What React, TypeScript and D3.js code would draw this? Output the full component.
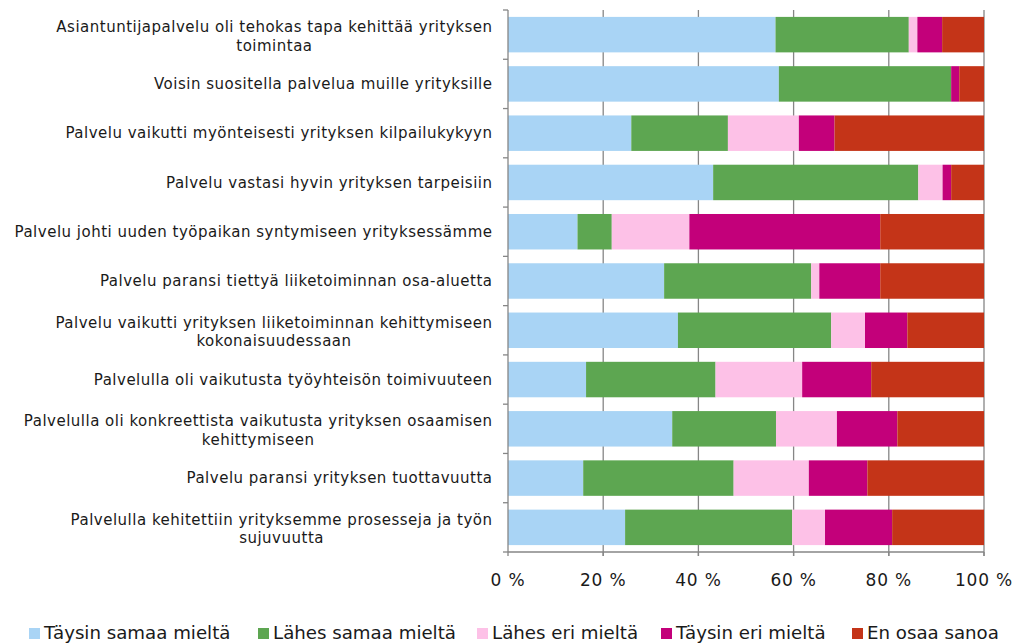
import React, { useEffect, useRef } from "react";
import * as d3 from "d3";

const categories: string[][] = [
  ["Asiantuntijapalvelu oli tehokas tapa kehittää yrityksen", "toimintaa"],
  ["Voisin suositella palvelua muille yrityksille"],
  ["Palvelu vaikutti myönteisesti yrityksen kilpailukykyyn"],
  ["Palvelu vastasi hyvin yrityksen tarpeisiin"],
  ["Palvelu johti uuden työpaikan syntymiseen yrityksessämme"],
  ["Palvelu paransi tiettyä liiketoiminnan osa-aluetta"],
  ["Palvelu vaikutti yrityksen liiketoiminnan kehittymiseen", "kokonaisuudessaan"],
  ["Palvelulla oli vaikutusta työyhteisön toimivuuteen"],
  ["Palvelulla oli konkreettista vaikutusta yrityksen osaamisen", "kehittymiseen"],
  ["Palvelu paransi yrityksen tuottavuutta"],
  ["Palvelulla kehitettiin yrityksemme prosesseja ja työn", "sujuvuutta"],
];

const seriesNames = [
  "Täysin samaa mieltä",
  "Lähes samaa mieltä",
  "Lähes eri mieltä",
  "Täysin eri mieltä",
  "En osaa sanoa",
];
const seriesColors = ["#A9D4F5", "#5DA651", "#FDC1E7", "#C3007A", "#C43418"];

const taysinSamaa = [56.2, 56.9, 25.9, 43.1, 14.6, 32.8, 35.7, 16.4, 34.5, 15.8, 24.6];
const lahesSamaa = [28.0, 36.2, 20.3, 43.1, 7.2, 30.9, 32.2, 27.2, 21.8, 31.6, 35.1];
const lahesEri = [1.8, 0.0, 14.9, 5.1, 16.3, 1.7, 7.1, 18.2, 12.8, 15.8, 6.9];
const taysinEri = [5.2, 1.7, 7.5, 1.8, 40.1, 12.8, 8.9, 14.5, 12.7, 12.3, 14.1];
const enOsaa = [8.8, 5.2, 31.4, 6.9, 21.8, 21.8, 16.1, 23.7, 18.2, 24.5, 19.3];

const xTicks = [0, 20, 40, 60, 80, 100];

const W = 1015;
const H = 644;
const FONT = "'DejaVu Sans', Verdana, sans-serif";

export default function App() {
  const ref = useRef<SVGSVGElement | null>(null);

  useEffect(() => {
    const svg = d3.select(ref.current);
    svg.selectAll("*").remove();

    const left = 508, right = 984, top = 10, bottom = 552;
    const x = d3.scaleLinear().domain([0, 100]).range([left, right]);
    const y = d3
      .scaleBand<number>()
      .domain(d3.range(categories.length))
      .range([top, bottom])
      .paddingInner(0.28)
      .paddingOuter(0.14);

    const rows = categories.map((c, i) => ({
      i,
      v: [taysinSamaa[i], lahesSamaa[i], lahesEri[i], taysinEri[i], enOsaa[i]],
    }));
    const axisColor = "#868686";
    const textColor = "#1a1a1a";

    // gridlines
    svg
      .append("g")
      .selectAll("line")
      .data(xTicks.slice(1))
      .join("line")
      .attr("x1", (d) => x(d))
      .attr("x2", (d) => x(d))
      .attr("y1", top)
      .attr("y2", bottom + 4)
      .attr("stroke", axisColor)
      .attr("stroke-width", 1.3);

    // bars
    const stack = d3
      .stack<any>()
      .keys([0, 1, 2, 3, 4] as any)
      .value((d: any, k: any) => d.v[k]);
    const stacked = stack(rows as any);
    svg
      .append("g")
      .selectAll("g")
      .data(stacked)
      .join("g")
      .attr("fill", (_d, k) => seriesColors[k])
      .selectAll("rect")
      .data((d) => d)
      .join("rect")
      .attr("x", (d) => x(d[0]))
      .attr("width", (d) => Math.max(0, x(d[1]) - x(d[0])))
      .attr("y", (d: any) => y(d.data.i) as number)
      .attr("height", y.bandwidth());

    // y axis
    svg
      .append("line")
      .attr("x1", left)
      .attr("x2", left)
      .attr("y1", top)
      .attr("y2", bottom)
      .attr("stroke", axisColor)
      .attr("stroke-width", 1.3);
    const step = (bottom - top) / categories.length;
    svg
      .append("g")
      .selectAll("line")
      .data(d3.range(categories.length + 1))
      .join("line")
      .attr("x1", left - 5)
      .attr("x2", left)
      .attr("y1", (d) => top + d * step)
      .attr("y2", (d) => top + d * step)
      .attr("stroke", axisColor)
      .attr("stroke-width", 1.3);

    // x axis
    svg
      .append("line")
      .attr("x1", left)
      .attr("x2", right)
      .attr("y1", bottom)
      .attr("y2", bottom)
      .attr("stroke", axisColor)
      .attr("stroke-width", 1.3);
    svg
      .append("g")
      .selectAll("line")
      .data(xTicks)
      .join("line")
      .attr("x1", (d) => x(d))
      .attr("x2", (d) => x(d))
      .attr("y1", bottom)
      .attr("y2", bottom + 4)
      .attr("stroke", axisColor)
      .attr("stroke-width", 1.3);
    svg
      .append("g")
      .selectAll("text")
      .data(xTicks)
      .join("text")
      .attr("x", (d) => x(d))
      .attr("y", 580)
      .attr("dy", "0.35em")
      .attr("text-anchor", "middle")
      .attr("font-family", FONT)
      .attr("font-size", 17)
      .attr("letter-spacing", 0.8)
      .attr("fill", textColor)
      .text((d) => `${d} %`);

    // category labels
    const lineH = 18.5;
    const labelRight = 492.5;
    categories.forEach((lines, i) => {
      const cy = top + (i + 0.5) * step + (lines.length > 1 ? 1.5 : 0);
      const t = svg
        .append("text")
        .attr("font-family", FONT)
        .attr("font-size", 15)
        .attr("letter-spacing", 0.5)
        .attr("fill", textColor)
        .attr("text-anchor", "middle");
      const tspans = lines.map((ln, j) =>
        t
          .append("tspan")
          .attr("y", cy + (j - (lines.length - 1) / 2) * lineH)
          .attr("dy", "0.35em")
          .text(ln)
      );
      const widths = tspans.map((ts) => (ts.node() as SVGTSpanElement).getComputedTextLength());
      const maxW = Math.max(...widths);
      tspans.forEach((ts) => ts.attr("x", labelRight - maxW / 2));
    });

    // legend
    const legendX = [29, 258, 477, 661, 852];
    const lg = svg
      .append("g")
      .selectAll("g")
      .data(seriesNames)
      .join("g")
      .attr("transform", (_d, k) => `translate(${legendX[k]},633)`);
    lg.append("rect")
      .attr("x", 0)
      .attr("y", -5)
      .attr("width", 11)
      .attr("height", 11)
      .attr("fill", (_d, k) => seriesColors[k]);
    lg.append("text")
      .attr("x", 15)
      .attr("y", 0)
      .attr("dy", "0.35em")
      .attr("font-family", FONT)
      .attr("font-size", 18.2)
      .attr("fill", textColor)
      .text((d) => d);
  }, []);

  return (
    <svg
      ref={ref}
      width={W}
      height={H}
      style={{ position: "absolute", left: 0, top: 0, background: "#fff" }}
    />
  );
}
